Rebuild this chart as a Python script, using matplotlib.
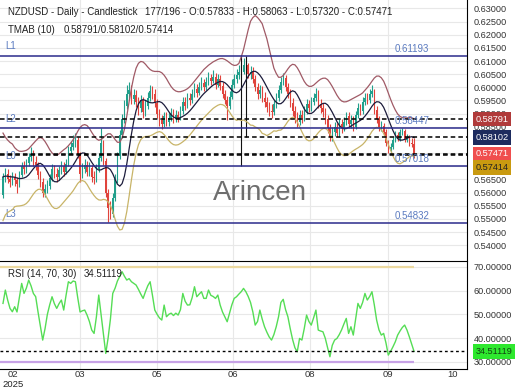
import numpy as np
import pandas as pd
import matplotlib
matplotlib.use('Agg')
import matplotlib.pyplot as plt
from matplotlib.transforms import blended_transform_factory

plt.rcParams['font.family'] = ['Liberation Sans', 'DejaVu Sans']

# daily candles (open of each bar = previous close)
first_open = 0.5590
closes = [
    0.5660, 0.5672, 0.5650, 0.5640, 0.5660, 0.5648, 0.5632, 0.5668, 0.5700, 0.5688,
    0.5712, 0.5735, 0.5745, 0.5718, 0.5705, 0.5668, 0.5640, 0.5598, 0.5612, 0.5625,
    0.5655, 0.5690, 0.5672, 0.5660, 0.5685, 0.5700, 0.5680, 0.5710, 0.5760, 0.5775,
    0.5790, 0.5800, 0.5745, 0.5672, 0.5690, 0.5705, 0.5680, 0.5695, 0.5660, 0.5655,
    0.5690, 0.5730, 0.5790, 0.5720, 0.5600, 0.5540, 0.5520, 0.5580, 0.5650, 0.5740,
    0.5820, 0.5880, 0.5930, 0.5975, 0.5990, 0.5955, 0.5970, 0.5945, 0.5920, 0.5950,
    0.5905, 0.5930, 0.5960, 0.5985, 0.5975, 0.5940, 0.5900, 0.5875, 0.5860, 0.5890,
    0.5870, 0.5885, 0.5900, 0.5880, 0.5895, 0.5885, 0.5910, 0.5945, 0.5930, 0.5960,
    0.5950, 0.5975, 0.5995, 0.5980, 0.6000, 0.6015, 0.6000, 0.6020, 0.6035, 0.6025,
    0.6040, 0.6010, 0.6030, 0.6005, 0.5975, 0.5950, 0.5930, 0.5965, 0.6010, 0.6030,
    0.6045, 0.6060, 0.6060, 0.6085, 0.6085, 0.6050, 0.6060, 0.6030, 0.6000, 0.5975,
    0.5990, 0.5960, 0.5945, 0.5925, 0.5910, 0.5905, 0.5935, 0.5960, 0.5990, 0.6020,
    0.6035, 0.6000, 0.5975, 0.5940, 0.5910, 0.5885, 0.5870, 0.5895, 0.5885, 0.5910,
    0.5935, 0.5920, 0.5945, 0.5960, 0.5975, 0.5935, 0.5920, 0.5905, 0.5880, 0.5845,
    0.5810, 0.5830, 0.5850, 0.5825, 0.5860, 0.5845, 0.5870, 0.5890, 0.5860, 0.5875,
    0.5850, 0.5895, 0.5920, 0.5910, 0.5945, 0.5960, 0.5950, 0.5975, 0.5985, 0.5915,
    0.5880, 0.5850, 0.5855, 0.5830, 0.5790, 0.5760, 0.5775, 0.5800, 0.5820, 0.5805,
    0.5830, 0.5835, 0.5800, 0.5810, 0.5790, 0.57833, 0.57471,
]
highs = [
    0.5675, 0.5695, 0.5688, 0.5668, 0.5678, 0.5675, 0.5660, 0.5682, 0.5718, 0.5722,
    0.5728, 0.5752, 0.5775, 0.5762, 0.5738, 0.5718, 0.5682, 0.5655, 0.5632, 0.5648,
    0.5672, 0.5708, 0.5705, 0.5692, 0.5702, 0.5720, 0.5715, 0.5728, 0.5778, 0.5798,
    0.5818, 0.5825, 0.5812, 0.5755, 0.5712, 0.5728, 0.5720, 0.5715, 0.5705, 0.5682,
    0.5708, 0.5750, 0.5846, 0.5800, 0.5730, 0.5615, 0.5568, 0.5598, 0.5670, 0.5755,
    0.5838, 0.5898, 0.5952, 0.6010, 0.6022, 0.6008, 0.5995, 0.5990, 0.5962, 0.5970,
    0.5965, 0.5952, 0.5982, 0.6008, 0.6005, 0.5992, 0.5955, 0.5918, 0.5895, 0.5908,
    0.5908, 0.5905, 0.5922, 0.5918, 0.5915, 0.5912, 0.5930, 0.5962, 0.5962, 0.5980,
    0.5978, 0.5995, 0.6018, 0.6012, 0.6022, 0.6038, 0.6032, 0.6040, 0.6058, 0.6052,
    0.6065, 0.6055, 0.6050, 0.6045, 0.6020, 0.5990, 0.5968, 0.5985, 0.6030, 0.6052,
    0.6068, 0.6085, 0.61193, 0.6112, 0.61193, 0.6092, 0.6082, 0.6078, 0.6048, 0.6018,
    0.6010, 0.6005, 0.5982, 0.5965, 0.5945, 0.5935, 0.5952, 0.5980, 0.6010, 0.6040,
    0.6055, 0.6048, 0.6018, 0.5992, 0.5958, 0.5928, 0.5905, 0.5915, 0.5915, 0.5930,
    0.5955, 0.5952, 0.5965, 0.5980, 0.5998, 0.5990, 0.5955, 0.5940, 0.5922, 0.5895,
    0.5862, 0.5850, 0.5870, 0.5865, 0.5880, 0.5878, 0.5888, 0.5908, 0.5905, 0.5895,
    0.5890, 0.5912, 0.5940, 0.5938, 0.5962, 0.5980, 0.5978, 0.5995, 0.6010, 0.5995,
    0.5930, 0.5892, 0.5872, 0.5865, 0.5840, 0.5800, 0.5788, 0.5812, 0.5834, 0.5830,
    0.5840, 0.5846, 0.5842, 0.5824, 0.5818, 0.5806, 0.58063,
]
lows = [
    0.5580, 0.5642, 0.5636, 0.5620, 0.5628, 0.5625, 0.5598, 0.5622, 0.5658, 0.5670,
    0.5675, 0.5700, 0.5722, 0.5700, 0.5685, 0.5650, 0.5620, 0.5582, 0.5585, 0.5598,
    0.5615, 0.5645, 0.5655, 0.5640, 0.5648, 0.5672, 0.5662, 0.5670, 0.5700, 0.5745,
    0.5762, 0.5775, 0.5730, 0.5640, 0.5655, 0.5675, 0.5662, 0.5665, 0.5642, 0.5632,
    0.5642, 0.5678, 0.5720, 0.5705, 0.5585, 0.5490, 0.5500, 0.5508, 0.5568, 0.5638,
    0.5728, 0.5808, 0.5865, 0.5918, 0.5955, 0.5935, 0.5938, 0.5925, 0.5895, 0.5905,
    0.5882, 0.5890, 0.5918, 0.5948, 0.5955, 0.5925, 0.5882, 0.5855, 0.5842, 0.5848,
    0.5852, 0.5855, 0.5872, 0.5865, 0.5868, 0.5868, 0.5875, 0.5900, 0.5915, 0.5920,
    0.5932, 0.5940, 0.5962, 0.5965, 0.5970, 0.5990, 0.5985, 0.5990, 0.6010, 0.6010,
    0.6015, 0.5995, 0.6000, 0.5990, 0.5958, 0.5935, 0.5876, 0.5918, 0.5955, 0.5998,
    0.6018, 0.6032, 0.57018, 0.6050, 0.58100, 0.6035, 0.6030, 0.6015, 0.5985, 0.5955,
    0.5960, 0.5945, 0.5925, 0.5905, 0.5890, 0.5885, 0.5895, 0.5922, 0.5948, 0.5980,
    0.6008, 0.5985, 0.5958, 0.5925, 0.5892, 0.5865, 0.5848, 0.5858, 0.5865, 0.5872,
    0.5898, 0.5905, 0.5910, 0.5932, 0.5948, 0.5920, 0.5902, 0.5888, 0.5862, 0.5828,
    0.5795, 0.5798, 0.5815, 0.5810, 0.5812, 0.5828, 0.5835, 0.5858, 0.5845, 0.5845,
    0.5835, 0.5840, 0.5882, 0.5895, 0.5900, 0.5932, 0.5935, 0.5940, 0.5965, 0.5900,
    0.5865, 0.5835, 0.5835, 0.5818, 0.5778, 0.5750, 0.5748, 0.5766, 0.5794, 0.5796,
    0.5798, 0.5820, 0.5794, 0.5792, 0.5778, 0.5774, 0.57320,
]
rsi = [
    54.6, 60.2, 56.0, 52.5, 51.1, 53.2, 51.0, 57.0, 63.0, 58.8,
    61.0, 64.4, 62.0, 58.8, 57.4, 51.0, 45.0, 39.2, 44.0, 50.0,
    54.0, 57.4, 54.5, 52.5, 54.5, 56.0, 51.8, 58.0, 63.7, 63.0,
    64.0, 63.7, 57.0, 51.0, 51.5, 51.8, 49.7, 47.0, 43.4, 42.0,
    49.0, 58.1, 50.0, 42.0, 33.6, 40.0, 48.0, 58.8, 61.0, 64.0,
    66.0, 67.9, 66.0, 64.4, 65.0, 63.7, 63.0, 62.3, 60.5, 58.5,
    56.7, 59.5, 62.0, 63.7, 58.0, 51.8, 50.0, 48.5, 47.6, 53.9,
    49.0, 50.0, 50.5, 49.5, 50.5, 49.7, 52.0, 58.8, 55.5, 53.9,
    54.0, 57.0, 61.6, 57.4, 58.5, 59.5, 56.7, 56.7, 60.2, 58.0,
    57.5, 56.7, 58.1, 53.9, 51.0, 49.0, 46.9, 50.5, 54.0, 56.7,
    57.4, 58.5, 59.5, 60.9, 59.5, 57.5, 55.0, 51.0, 45.5, 47.0,
    51.8, 48.0, 44.8, 42.5, 40.5, 39.2, 41.5, 44.8, 49.0, 55.0,
    56.3, 52.0, 49.0, 44.0, 39.5, 36.0, 34.3, 39.9, 39.2, 44.0,
    49.7, 47.0, 45.5, 48.5, 51.8, 43.4, 43.0, 42.7, 40.0, 36.0,
    32.2, 37.0, 39.2, 39.9, 41.5, 43.5, 46.0, 48.3, 42.0, 44.8,
    41.3, 48.0, 54.6, 52.5, 55.0, 58.8, 56.0, 57.5, 59.5, 54.0,
    47.6, 43.5, 41.3, 42.0, 38.0, 32.9, 34.5, 36.4, 38.5, 41.3,
    43.0, 44.5, 45.5, 43.4, 40.6, 37.5, 34.51,
]

levels = [0.61193, 0.58447, 0.57018, 0.54832]
level_names = ['L1', 'L2', 'L0', 'L3']
band_last = [0.58791, 0.58102, 0.57414]
last_close = 0.57471
rsi_last = 34.51119

month_pos = [4.3, 33, 66, 98.5, 131.5, 165, 192.7]
month_labels = ['02', '03', '05', '06', '08', '09', '10']
grid_pos = [33, 66, 98.5, 131.5, 165]

# ---- indicators (TMA 10 with range bands) ----
c = pd.Series(closes)
h = pd.Series(highs)
l = pd.Series(lows)
o = pd.Series([first_open] + closes[:-1])
tma = c.rolling(6, min_periods=1).mean().rolling(5, min_periods=1).mean()
tr = pd.concat([h - l, (h - o).abs(), (l - o).abs()], axis=1).max(axis=1)
atr = tr.rolling(10, min_periods=1).mean().rolling(5, min_periods=1).mean()
k = 1.75
upper = tma + k * atr
lower = tma - k * atr

n = len(closes)
x = np.arange(n)

fig = plt.figure(figsize=(5.2, 3.9), dpi=100)
ax = fig.add_axes([0, 1 - 260 / 390, 467 / 520, 260 / 390])
ax2 = fig.add_axes([0, 1 - 369 / 390, 467 / 520, 108 / 390])

xlim = (-1.285, 198.7)

# ---- price panel ----
ax.set_xlim(*xlim)
ax.set_ylim(0.53442, 0.63317)
price_ticks = np.round(np.arange(0.540, 0.6301, 0.005), 3)
ax.set_yticks(price_ticks)
ax.set_yticklabels([f'{v:.5f}' for v in price_ticks])
ax.yaxis.tick_right()
ax.tick_params(axis='y', length=0, pad=5, labelsize=6.6, labelcolor='#333333')
ax.set_xticks([])
ax.grid(axis='y', color='#e8e8e8', lw=0.8)
for gx in grid_pos:
    ax.axvline(gx, color='#e8e8e8', lw=0.8, zorder=0)
for s in ['left', 'top', 'bottom']:
    ax.spines[s].set_visible(False)
ax.spines['right'].set_color('black')

up = c.values > o.values
down = c.values < o.values
colors = np.where(up, '#22a08c', np.where(down, '#e0443c', '#111111'))
ax.vlines(x, l.values, h.values, colors=colors, lw=0.8, zorder=3)
ax.bar(x, np.abs(c.values - o.values), bottom=np.minimum(c.values, o.values),
       width=0.6, color=colors, zorder=3)

ax.plot(x, upper, color='#a05a66', lw=0.9, zorder=4)
ax.plot(x, tma, color='#1c1c3c', lw=0.9, zorder=4)
ax.plot(x, lower, color='#c8b468', lw=0.9, zorder=4)

trans = blended_transform_factory(ax.transAxes, ax.transData)
for v, name in zip(levels, level_names):
    ax.axhline(v, color='#2b2b8c', lw=1.1, zorder=5)
    ax.annotate(name, xy=(0.012, v), xycoords=trans, xytext=(0, 7),
                textcoords='offset points', ha='left', va='center',
                fontsize=7, color='#5b7bc0')
    ax.annotate(f'{v:.5f}', xy=(0.846, v), xycoords=trans, xytext=(0, 5),
                textcoords='offset points', ha='left', va='center',
                fontsize=7, color='#5b7bc0', zorder=6)

for v in band_last + [last_close]:
    ax.axhline(v, color='black', ls=(0, (3, 2)), lw=1.1, zorder=5)

boxes = [(band_last[0], '#b03a3a', 'white', 0),
         (band_last[1], '#1d2b5e', 'white', 0),
         (last_close, '#f04e4e', 'white', 0),
         (band_last[2], '#c99a10', '#222222', -8.6)]
for v, fc, tc, dy in boxes:
    ax.annotate(f'{v:.5f}', xy=(1, v), xycoords=trans, xytext=(6, dy),
                textcoords='offset points', ha='left', va='center',
                fontsize=6.6, color=tc, annotation_clip=False, zorder=10,
                bbox=dict(boxstyle='square,pad=0.3', fc=fc, ec='none'))

fig.text(260 / 520, 1 - 193 / 390, 'Arincen', fontsize=20, color='#6e6e6e',
         ha='center', va='center')

# ---- RSI panel ----
ax2.set_xlim(*xlim)
ax2.set_ylim(27.06, 72.4)
ax2.plot(x, rsi, color='#55dd55', lw=1.0, zorder=4)
ax2.hlines(70, xlim[0], n - 1, color='#ecd9a0', lw=1.6, zorder=3)
ax2.hlines(30, xlim[0], n - 1, color='#c7a2e6', lw=1.6, zorder=3)
ax2.axhline(rsi_last, color='black', ls=(0, (2, 2)), lw=1.0, zorder=5)
rsi_ticks = [30, 40, 50, 60, 70]
ax2.set_yticks(rsi_ticks)
ax2.set_yticklabels([f'{v:.5f}' for v in rsi_ticks])
ax2.yaxis.tick_right()
ax2.tick_params(axis='y', length=0, pad=5, labelsize=6.6, labelcolor='#333333')
ax2.grid(axis='y', color='#e8e8e8', lw=0.8)
for gx in grid_pos:
    ax2.axvline(gx, color='#e8e8e8', lw=0.8, zorder=0)
ax2.set_xticks(month_pos)
ax2.set_xticklabels(month_labels)
ax2.tick_params(axis='x', length=0, pad=1, labelsize=6.8, labelcolor='#333333')
ax2.spines['left'].set_visible(False)
for s in ['top', 'bottom', 'right']:
    ax2.spines[s].set_color('black')
trans2 = blended_transform_factory(ax2.transAxes, ax2.transData)
ax2.annotate(f'{rsi_last:.5f}', xy=(1, rsi_last), xycoords=trans2, xytext=(6, 0),
             textcoords='offset points', ha='left', va='center', fontsize=6.6,
             color='#114411', annotation_clip=False, zorder=10,
             bbox=dict(boxstyle='square,pad=0.3', fc='#2ee82e', ec='none'))

# ---- header texts ----
def ftext(px, py, s, ha='left', size=7):
    fig.text(px / 520, 1 - py / 390, s, ha=ha, va='center', fontsize=size,
             color='#222222')

ftext(8, 12, 'NZDUSD - Daily - Candlestick')
ftext(145, 12, '177/196 - O:0.57833 - H:0.58063 - L:0.57320 - C:0.57471')
ftext(8, 30, 'TMAB (10)')
ftext(64, 30, '0.58791/0.58102/0.57414')
ftext(8, 274, 'RSI (14, 70, 30)')
ftext(84, 274, '34.51119')
ftext(13, 384.5, '2025', ha='center', size=6.8)

fig.savefig('out.png', dpi=100)
